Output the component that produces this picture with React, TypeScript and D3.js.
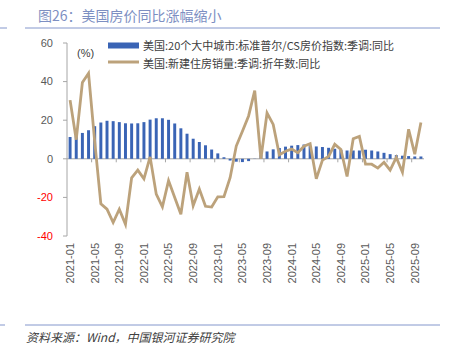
import { useEffect, useRef } from "react";
import * as d3 from "d3";

const months = [
  "2021-01", "2021-02", "2021-03", "2021-04", "2021-05", "2021-06", "2021-07", "2021-08", "2021-09", "2021-10", "2021-11", "2021-12",
  "2022-01", "2022-02", "2022-03", "2022-04", "2022-05", "2022-06", "2022-07", "2022-08", "2022-09", "2022-10", "2022-11", "2022-12",
  "2023-01", "2023-02", "2023-03", "2023-04", "2023-05", "2023-06", "2023-07", "2023-08", "2023-09", "2023-10", "2023-11", "2023-12",
  "2024-01", "2024-02", "2024-03", "2024-04", "2024-05", "2024-06", "2024-07", "2024-08", "2024-09", "2024-10", "2024-11", "2024-12",
  "2025-01", "2025-02", "2025-03", "2025-04", "2025-05", "2025-06", "2025-07", "2025-08", "2025-09", "2025-10",
];

// 美国:20个大中城市:标准普尔/CS房价指数:季调:同比
const caseShiller = [
  11.3, 12.0, 13.4, 14.8, 16.9, 18.8, 19.7, 19.5, 19.0, 18.4, 18.3, 18.4,
  19.0, 20.3, 21.0, 21.0, 20.2, 18.3, 15.8, 13.0, 10.4, 8.7, 7.0, 4.8,
  2.8, 0.8, -0.9, -1.5, -1.7, -1.2, 0.1, 2.2, 3.8, 4.9, 5.6, 6.3,
  6.8, 7.1, 7.4, 6.6, 6.4, 6.1, 5.7, 5.2, 4.6, 4.3, 4.3, 4.3,
  4.7, 4.3, 3.8, 3.1, 2.4, 1.9, 1.6, 1.4, 1.2, 1.2,
];

// 美国:新建住房销量:季调:折年数:同比
const newHomeSales = [
  30.4, 9.9, 39.5, 44.3, 9.0, -23.3, -26.1, -33.0, -26.1, -33.9, -9.9, -5.9,
  -10.4, 1.0, -18.3, -24.9, -11.3, -20.0, -28.7, -7.0, -24.3, -15.7, -24.6, -25.0,
  -19.7, -19.6, -9.8, 6.6, 14.3, 22.2, 35.3, 0.0, 23.7, 17.8, 2.1, 3.9,
  5.0, 3.2, 6.5, 7.8, -10.4, -0.7, 1.2, 7.5, 4.8, -9.2, 10.4, 11.6,
  -2.8, -2.8, -4.8, -1.8, -5.9, 0.7, -7.0, 15.3, 2.4, 18.8,
];

const yTicks = [60, 40, 20, 0, -20, -40];
const legendLabels = [
  "美国:20个大中城市:标准普尔/CS房价指数:季调:同比",
  "美国:新建住房销量:季调:折年数:同比",
];

const BAR = "#3a64b5";
const LINE = "#bca27b";
const CJK = "'Noto Sans CJK SC', 'Noto Sans', sans-serif";
const NUM = "'Liberation Sans', Arial, sans-serif";

export default function App() {
  const svgRef = useRef<SVGSVGElement | null>(null);

  useEffect(() => {
    if (!svgRef.current) return;
    const svg = d3.select(svgRef.current);
    svg.selectAll("*").remove();

    const x = d3.scaleBand<string>().domain(months).range([67, 424]).padding(0);
    const y = d3.scaleLinear().domain([-40, 60]).range([236, 43]);
    const cx = (m: string) => (x(m) ?? 0) + x.bandwidth() / 2;

    // title + rules
    svg.append("text")
      .attr("x", 38).attr("y", 20.5)
      .attr("font-family", CJK).attr("font-size", 14)
      .attr("fill", "#7d8fc2")
      .text("图26：美国房价同比涨幅缩小");
    svg.append("line").attr("x1", 25).attr("x2", 440).attr("y1", 28).attr("y2", 28)
      .attr("stroke", "#8497cc").attr("stroke-width", 1);
    svg.append("line").attr("x1", 0).attr("x2", 7).attr("y1", 28).attr("y2", 28)
      .attr("stroke", "#8497cc").attr("stroke-width", 1);
    svg.append("line").attr("x1", 25).attr("x2", 440).attr("y1", 325).attr("y2", 325)
      .attr("stroke", "#8497cc").attr("stroke-width", 1);
    svg.append("line").attr("x1", 0).attr("x2", 5).attr("y1", 325).attr("y2", 325)
      .attr("stroke", "#8497cc").attr("stroke-width", 1);
    svg.append("text")
      .attr("x", 26).attr("y", 341.5)
      .attr("font-family", CJK).attr("font-size", 12).attr("font-style", "italic")
      .attr("fill", "#404040")
      .text("资料来源：Wind，中国银河证券研究院");

    // y axis
    const axisColor = "#a6a6a6";
    svg.append("line").attr("x1", 67).attr("x2", 67).attr("y1", y(60)).attr("y2", y(-40))
      .attr("stroke", axisColor);
    const yt = svg.append("g");
    yTicks.forEach((t) => {
      yt.append("line").attr("x1", 63).attr("x2", 67).attr("y1", y(t)).attr("y2", y(t))
        .attr("stroke", axisColor);
      yt.append("text")
        .attr("x", 53).attr("y", y(t)).attr("dy", "0.35em")
        .attr("text-anchor", "end")
        .attr("font-family", NUM).attr("font-size", 11)
        .attr("fill", t < 0 ? "#ff0000" : "#595959")
        .text(String(t));
    });
    svg.append("text")
      .attr("x", 77).attr("y", 57)
      .attr("font-family", NUM).attr("font-size", 11).attr("fill", "#404040")
      .text("(%)");

    // x axis
    svg.append("line").attr("x1", 67).attr("x2", 424).attr("y1", y(0)).attr("y2", y(0))
      .attr("stroke", axisColor);
    months.forEach((m, i) => {
      if (i > 0 && i % 4 === 0) {
        const tx = x(m) ?? 0;
        svg.append("line").attr("x1", tx).attr("x2", tx).attr("y1", y(0)).attr("y2", y(0) + 3.5)
          .attr("stroke", axisColor);
      }
      if (i % 4 === 0) {
        svg.append("text")
          .attr("transform", `translate(${cx(m)},243) rotate(-90)`)
          .attr("dy", "0.35em")
          .attr("text-anchor", "end")
          .attr("font-family", NUM).attr("font-size", 11).attr("fill", "#595959")
          .text(m);
      }
    });

    // bars
    const bw = x.bandwidth() * 0.48;
    svg.append("g").selectAll("rect")
      .data(caseShiller)
      .join("rect")
      .attr("x", (_d, i) => cx(months[i]) - bw / 2)
      .attr("width", bw)
      .attr("y", (d) => Math.min(y(d), y(0)))
      .attr("height", (d) => Math.abs(y(d) - y(0)))
      .attr("fill", BAR);

    // line
    const line = d3.line<number>()
      .x((_d, i) => cx(months[i]))
      .y((d) => y(d));
    svg.append("path")
      .datum(newHomeSales)
      .attr("d", line)
      .attr("fill", "none")
      .attr("stroke", LINE)
      .attr("stroke-width", 2.8)
      .attr("stroke-linejoin", "miter");

    // legend
    svg.append("rect").attr("x", 108).attr("y", 42.5).attr("width", 31).attr("height", 6).attr("fill", BAR);
    svg.append("line").attr("x1", 108).attr("x2", 139).attr("y1", 62).attr("y2", 62)
      .attr("stroke", LINE).attr("stroke-width", 3);
    legendLabels.forEach((l, i) => {
      svg.append("text")
        .attr("x", 143).attr("y", 49.5 + i * 18)
        .attr("font-family", CJK).attr("font-size", 11).attr("fill", "#404040")
        .text(l);
    });
  }, []);

  return (
    <svg
      ref={svgRef}
      width={455}
      height={353}
      style={{ position: "fixed", left: 0, top: 0, background: "#fff" }}
    />
  );
}
